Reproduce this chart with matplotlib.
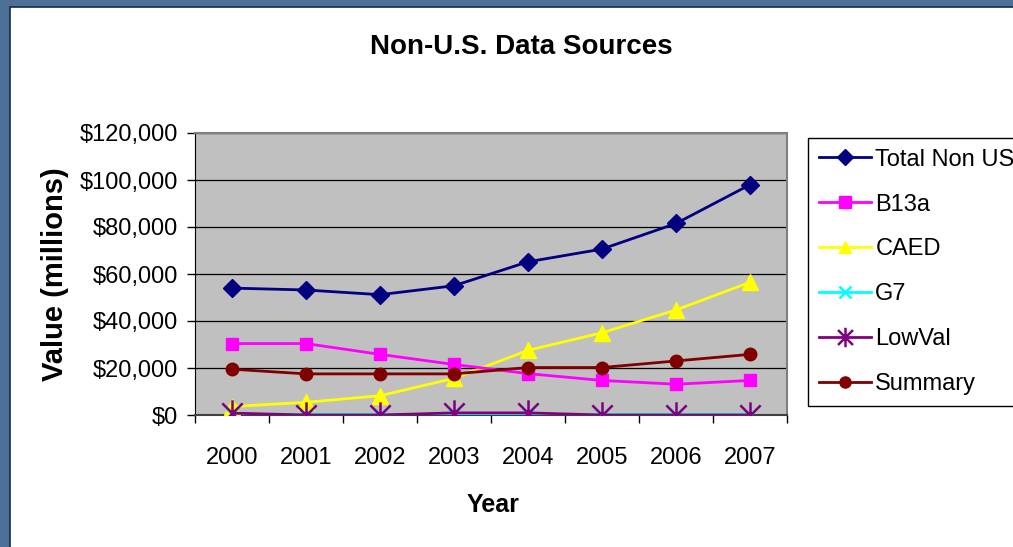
import matplotlib
matplotlib.use("Agg")
import matplotlib.pyplot as plt
from matplotlib.patches import Rectangle
from matplotlib.path import Path
from matplotlib.ticker import FuncFormatter, FixedLocator
import numpy as np

plt.rcParams['font.family'] = ['Liberation Sans', 'DejaVu Sans']

years = ["2000", "2001", "2002", "2003", "2004", "2005", "2006", "2007"]
total_non_us = [54000, 53200, 51200, 55000, 65200, 70600, 81500, 98000]
b13a = [30400, 30400, 25800, 21500, 17600, 14700, 13100, 14700]
caed = [3600, 5400, 8200, 15600, 27500, 35000, 44700, 56500]
g7 = [300, 200, 200, 300, 300, 200, 200, 200]
lowval = [800, 0, 0, 900, 900, 0, 0, 0]
summary = [19500, 17500, 17500, 17500, 20200, 20200, 23000, 25800]
series_names = ["Total Non US", "B13a", "CAED", "G7", "LowVal", "Summary"]

W, H = 1013, 547
fig = plt.figure(figsize=(W / 100, H / 100), dpi=100)
fig.patch.set_facecolor('#4d7099')

# white panel
fig.patches.append(Rectangle((10 / W, -0.1), 1.1, 1.1 - 7 / H, transform=fig.transFigure,
                             facecolor='white', edgecolor='#1a2a40', linewidth=1.2, zorder=-10))

ax = fig.add_axes([195 / W, 1 - 415 / H, (787 - 195) / W, (415 - 133) / H])
ax.set_zorder(2)
ax.set_facecolor('#C0C0C0')

x = np.arange(len(years))

# asterisk marker (x + vertical bar)
ast = Path([(-1, -1), (1, 1), (-1, 1), (1, -1), (0, -1.3), (0, 1.3)],
           [Path.MOVETO, Path.LINETO, Path.MOVETO, Path.LINETO, Path.MOVETO, Path.LINETO])

lw = 2.0
ax.plot(x, total_non_us, color='#000080', marker='D', markersize=9.5, lw=lw, label=series_names[0], zorder=5)
ax.plot(x, b13a, color='#FF00FF', marker='s', markersize=9, lw=lw, label=series_names[1], zorder=4)
ax.plot(x, caed, color='#FFFF00', marker='^', markersize=11, lw=lw, label=series_names[2], zorder=3)
ax.plot(x, g7, color='#00FFFF', marker='x', markersize=9, markeredgewidth=1.8, lw=lw, label=series_names[3], zorder=3)
ax.plot(x, lowval, color='#800080', marker=ast, markersize=19, markeredgewidth=1.8, lw=lw, label=series_names[4], zorder=6)
ax.plot(x, summary, color='#800000', marker='o', markersize=9, lw=lw, label=series_names[5], zorder=4)

ax.set_xlim(-0.5, len(years) - 0.5)
ax.set_ylim(0, 120000)
ax.set_yticks(np.arange(0, 120001, 20000))
ax.yaxis.set_major_formatter(FuncFormatter(lambda v, p: "${:,.0f}".format(v)))
ax.grid(axis='y', color='black', linewidth=0.9)
ax.set_axisbelow(True)

ax.set_xticks(x)
ax.set_xticklabels(years)
ax.xaxis.set_minor_locator(FixedLocator(np.arange(-0.5, len(years), 1.0)))
ax.tick_params(axis='x', which='major', length=0, pad=23, labelsize=17)
ax.tick_params(axis='x', which='minor', length=6, width=1, direction='out')
ax.tick_params(axis='y', length=6, width=1, direction='out', labelsize=17, pad=6)

for s in ['top', 'right']:
    ax.spines[s].set_color('#808080')
    ax.spines[s].set_linewidth(1.5)
ax.spines['left'].set_color('black')
ax.spines['bottom'].set_color('#404040')
ax.spines['bottom'].set_linewidth(1.5)

fig.text(55 / W, 1 - 274 / H, "Value (millions)", rotation=90, ha='center', va='center',
         fontsize=21, fontweight='bold')
fig.text(493 / W, 1 - 505 / H, "Year", ha='center', va='center',
         fontsize=18, fontweight='bold')
fig.text(521 / W, 1 - 47 / H, "Non-U.S. Data Sources", ha='center', va='center',
         fontsize=20, fontweight='bold')

leg = fig.legend(loc='upper left', bbox_to_anchor=(808 / W, 1 - 138 / H), bbox_transform=fig.transFigure,
                 fontsize=17, frameon=True, fancybox=False, edgecolor='black', framealpha=1,
                 handlelength=2.2, labelspacing=0.97, borderpad=0.45, handletextpad=0.2,
                 borderaxespad=0)
leg.get_frame().set_linewidth(1)
for h in leg.legend_handles:
    h.set_markersize(8)
leg.legend_handles[4].set_markersize(14)

fig.savefig("out.png", dpi=100)
